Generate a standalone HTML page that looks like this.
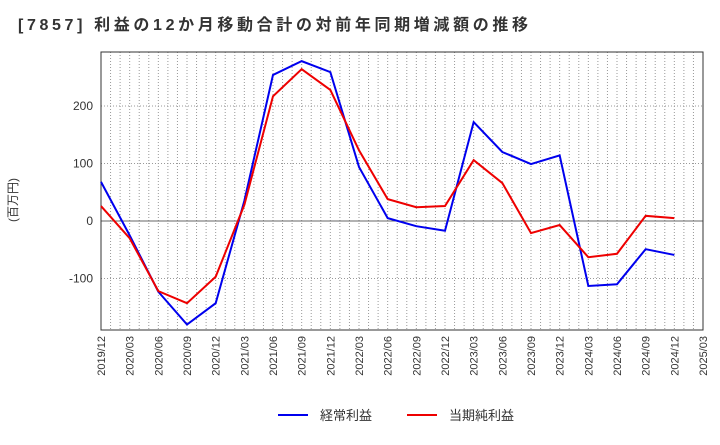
<!DOCTYPE html>
<html><head><meta charset="utf-8"><style>
body{margin:0;background:#fff;font-family:"Liberation Sans","Noto Sans CJK JP",sans-serif;}
</style></head><body>
<svg id="c" width="720" height="440" xmlns="http://www.w3.org/2000/svg"></svg>
<script>
const categories=["2019/12","2020/03","2020/06","2020/09","2020/12","2021/03","2021/06","2021/09","2021/12","2022/03","2022/06","2022/09","2022/12","2023/03","2023/06","2023/09","2023/12","2024/03","2024/06","2024/09","2024/12","2025/03"];
const ordinaryProfit=[68,-25,-123,-180,-143,35,254,278,259,94,5,-9,-17,172,120,99,114,-113,-110,-49,-59];
const netProfit=[26,-30,-122,-143,-97,28,217,264,228,123,38,24,26,106,66,-21,-7,-63,-57,9,5];
const yTicks=[-100,0,100,200];
const L=101,R=703,T=52,B=330;
const X=i=>L+(R-L)*i/(categories.length-1);
const Y=v=>221-v*0.575;
const svg=document.getElementById('c');
const NS="http://www.w3.org/2000/svg";
function mk(t,a,p){const e=document.createElementNS(NS,t);for(const k in a)e.setAttribute(k,a[k]);(p||svg).appendChild(e);return e;}
const title=mk('text',{x:18,y:30,'font-size':16,'font-weight':'bold',fill:'#333',textLength:510,lengthAdjust:'spacing'});


title.textContent="[7857]  利益の12か月移動合計の対前年同期増減額の推移";
const nMonths=(categories.length-1)*3;
for(let m=1;m<nMonths;m++){
  const x=L+(R-L)*m/nMonths;
  const g=mk('line',{x1:x,x2:x,y1:T,y2:B,stroke:'#999','stroke-dasharray':'1,2','stroke-width':1});
  
  
}
categories.forEach((c,i)=>{
  const x=X(i),t=mk('text',{x:x+4,y:B+6,'font-size':11,fill:'#333','text-anchor':'end',transform:`rotate(-90 ${x+4} ${B+6})`});
  
  
  t.textContent=c;
});
yTicks.forEach(v=>{
  const g=mk('line',{x1:L,x2:R,y1:Y(v),y2:Y(v),stroke:'#999','stroke-dasharray':'1,2'});
  
  
  const t=mk('text',{x:L-8,y:Y(v)+4,'font-size':12,fill:'#333','text-anchor':'end'});
  
  
  t.textContent=v;
});
const zero=mk('line',{x1:L,x2:R,y1:Y(0),y2:Y(0),stroke:'#666'});


const box=mk('rect',{x:L,y:T,width:R-L,height:B-T,fill:'none',stroke:'#333'});


const yt=mk('text',{x:17,y:200,'font-size':12,fill:'#333','text-anchor':'middle',transform:'rotate(-90 17 200)'});


yt.textContent="(百万円)";
function line(d,col,name){
  const p=mk('polyline',{points:d.map((v,i)=>X(i)+','+Y(v)).join(' '),fill:'none',stroke:col,'stroke-width':2});
  
  
}
line(ordinaryProfit,'#0000ee','ordinary-profit-line');
line(netProfit,'#ee0000','net-profit-line');
[[278,'#0000ee','経常利益','legend-ordinary-profit'],[407,'#ee0000','当期純利益','legend-net-profit']].forEach(([x,c,l,n])=>{
  const g=mk('g',{});
  
  
  mk('line',{x1:x,x2:x+30,y1:415,y2:415,stroke:c,'stroke-width':2},g);
  const t=mk('text',{x:x+42,y:420,'font-size':13,fill:'#333'},g);
  t.textContent=l;
});
</script>
</body></html>
